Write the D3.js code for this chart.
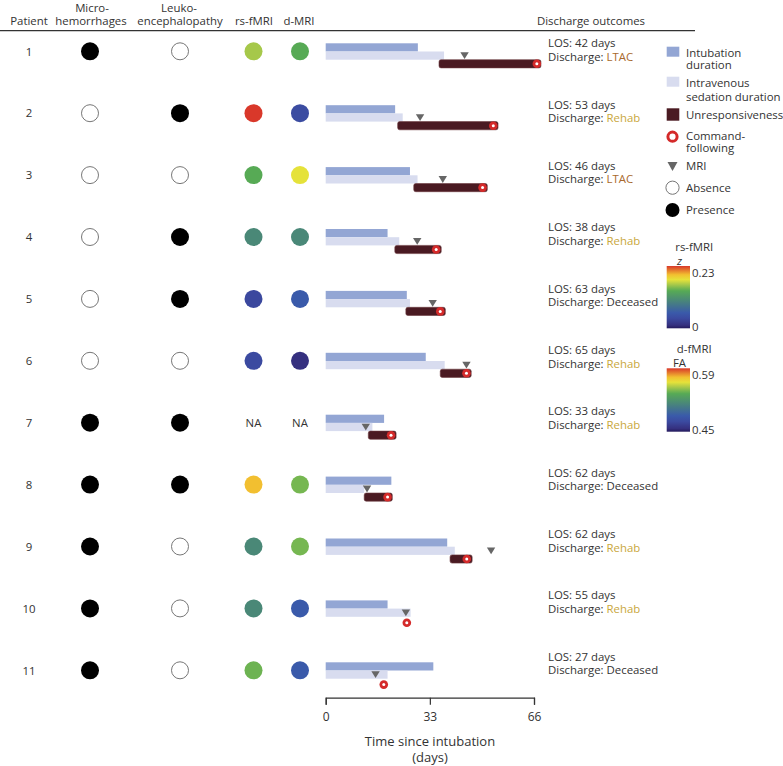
<!DOCTYPE html>
<html>
<head>
<meta charset="utf-8">
<script src="https://cdn.jsdelivr.net/npm/d3@7"></script>
<style>
  html, body { margin: 0; padding: 0; background: #fff; }
  svg { display: block; font-family: "Open Sans", "Noto Sans", sans-serif; }
</style>
</head>
<body>
<svg id="chart" width="783" height="766"></svg>
<script>
// ---------------- DATA ----------------
const patients = [1, 2, 3, 4, 5, 6, 7, 8, 9, 10, 11];
const microhemorrhages = [1, 0, 0, 0, 0, 0, 1, 1, 1, 1, 1];
const leukoencephalopathy = [0, 1, 0, 1, 1, 0, 1, 1, 0, 0, 0];
const rsfmriZ = [0.161, 0.23, 0.138, 0.104, 0.035, 0.037, null, 0.198, 0.104, 0.104, 0.145];
const dmriFA = [0.534, 0.474, 0.559, 0.513, 0.485, 0.457, null, 0.540, 0.540, 0.485, 0.485];
const intubationDays = [29.2, 22.0, 26.7, 19.6, 25.7, 31.7, 18.5, 20.8, 38.5, 19.6, 34.1];
const sedationDays = [37.5, 24.4, 29.1, 23.3, 26.7, 37.7, 14.8, 12.2, 40.9, 26.9, 19.6];
const unrespStart = [35.9, 22.8, 27.9, 21.9, 25.4, 36.3, 13.5, 12.2, 39.4, null, null];
const unrespEnd = [68.2, 54.6, 51.2, 36.6, 37.9, 46.1, 22.3, 21.1, 46.4, null, null];
const commandFollowing = [66.9, 53.1, 49.7, 35.0, 36.3, 44.6, 20.7, 19.6, 44.7, 25.7, 18.4];
const mriDay = [44.0, 29.9, 37.1, 29.0, 33.9, 44.6, 12.7, 13.1, 52.4, 25.4, 15.8];
const losDays = [42, 53, 46, 38, 63, 65, 33, 62, 62, 55, 27];
const discharge = ["LTAC", "Rehab", "LTAC", "Rehab", "Deceased", "Rehab", "Rehab", "Deceased", "Rehab", "Rehab", "Deceased"];
const xTicks = [0, 33, 66];
const rsDomain = [0, 0.23];
const faDomain = [0.45, 0.59];

// colormap stops (fraction, colour)
const cmapStops = [
  [0.00, "#241a5c"], [0.05, "#35307f"], [0.16, "#3b4aa0"], [0.25, "#3a5aaa"],
  [0.45, "#4a8878"], [0.60, "#57aa55"], [0.64, "#74b651"], [0.70, "#a6c84a"],
  [0.78, "#e6e23a"], [0.86, "#f2c030"], [1.00, "#d9382a"]
];
const dischargeColor = { LTAC: "#a8692c", Rehab: "#c9a73c", Deceased: "#333333" };

// ---------------- LAYOUT ----------------
const svg = d3.select("#chart");
const textCol = "#333";
const fs = 11.4;
const rowTop0 = 43.3, rowStep = 61.9;
const rowY = d3.scaleLinear().domain([0, 1]).range([rowTop0, rowTop0 + rowStep]);
const losY = d3.scaleLinear().domain([0, 10]).range([43.3, 656.7]);
const x = d3.scaleLinear().domain([0, 66]).range([325.7, 534]);
const barH = 8.2;

const cmap = d3.scaleLinear().domain(cmapStops.map(d => d[0])).range(cmapStops.map(d => d[1])).clamp(true);
const rsColor = v => cmap((v - rsDomain[0]) / (rsDomain[1] - rsDomain[0]));
const faColor = v => cmap((v - faDomain[0]) / (faDomain[1] - faDomain[0]));

// ---------------- HEADER ----------------
const hdr = svg.append("g").attr("fill", textCol).attr("font-size", fs).attr("text-anchor", "middle");
hdr.append("text").attr("x", 29).attr("y", 25).text("Patient");
hdr.append("text").attr("x", 92).attr("y", 11.5).text("Micro-");
hdr.append("text").attr("x", 91).attr("y", 25).text("hemorrhages");
hdr.append("text").attr("x", 179).attr("y", 11.5).text("Leuko-");
hdr.append("text").attr("x", 180).attr("y", 25).text("encephalopathy");
hdr.append("text").attr("x", 254).attr("y", 25).text("rs-fMRI");
hdr.append("text").attr("x", 299).attr("y", 25).text("d-MRI");
hdr.append("text").attr("x", 591).attr("y", 25).text("Discharge outcomes");
svg.append("line").attr("x1", 0).attr("x2", 695).attr("y1", 30.7).attr("y2", 30.7)
  .attr("stroke", "#333").attr("stroke-width", 1.3);

// ---------------- ROWS ----------------
const rows = svg.append("g");
patients.forEach((p, i) => {
  const top = rowY(i);
  const cy = top + 8;
  const g = rows.append("g");
  g.append("text").attr("x", 29).attr("y", cy + 4.2).attr("text-anchor", "middle")
    .attr("font-size", fs).attr("fill", textCol).text(p);
  // presence/absence
  [[90, microhemorrhages[i]], [180, leukoencephalopathy[i]]].forEach(([cx, v]) => {
    g.append("circle").attr("cx", cx).attr("cy", cy).attr("r", v ? 9 : 8.5)
      .attr("fill", v ? "#000" : "#fff").attr("stroke", v ? "#000" : "#777").attr("stroke-width", v ? 0 : 1);
  });
  // imaging colours
  [[253.5, rsfmriZ[i], rsColor], [300, dmriFA[i], faColor]].forEach(([cx, v, f]) => {
    if (v == null) {
      g.append("text").attr("x", cx).attr("y", cy + 4.2).attr("text-anchor", "middle")
        .attr("font-size", fs).attr("fill", textCol).text("NA");
    } else {
      g.append("circle").attr("cx", cx).attr("cy", cy).attr("r", 9).attr("fill", f(v));
    }
  });
  // bars
  g.append("rect").attr("x", x(0)).attr("y", top).attr("width", x(intubationDays[i]) - x(0)).attr("height", barH)
    .attr("fill", "#93a6d4");
  g.append("rect").attr("x", x(0)).attr("y", top + barH).attr("width", x(sedationDays[i]) - x(0)).attr("height", barH)
    .attr("fill", "#d8dcef");
  if (unrespStart[i] != null) {
    g.append("rect").attr("x", x(unrespStart[i])).attr("y", top + 2 * barH)
      .attr("width", x(unrespEnd[i]) - x(unrespStart[i])).attr("height", barH)
      .attr("rx", 2).attr("fill", "#4a1a22").attr("stroke", "#6b3a40").attr("stroke-width", 0.6);
  }
  // MRI triangle
  const tx = x(mriDay[i]), ty = top + 12.3;
  g.append("path").attr("d", `M${tx - 4.2},${ty - 3.3}L${tx + 4.2},${ty - 3.3}L${tx},${ty + 3.5}Z`).attr("fill", "#666");
  // command following
  const cfy = unrespStart[i] != null ? top + 2 * barH + 4.1 : top + 22.3;
  g.append("circle").attr("cx", x(commandFollowing[i])).attr("cy", cfy).attr("r", 4.3).attr("fill", "#d42a2a");
  g.append("circle").attr("cx", x(commandFollowing[i])).attr("cy", cfy).attr("r", 1.5).attr("fill", "#fff");
  // discharge text
  const t1 = losY(i) + 4.1;
  g.append("text").attr("x", 548).attr("y", t1).attr("font-size", fs).attr("fill", textCol)
    .text(`LOS: ${losDays[i]} days`);
  const t2 = g.append("text").attr("x", 548).attr("y", t1 + 13.4).attr("font-size", fs).attr("fill", textCol);
  t2.append("tspan").text("Discharge: ");
  t2.append("tspan").attr("fill", dischargeColor[discharge[i]]).text(discharge[i]);
});

// ---------------- AXIS ----------------
const axisG = svg.append("g").attr("transform", "translate(0,697.7)")
  .call(d3.axisBottom(x).tickValues(xTicks).tickSize(7).tickSizeOuter(7).tickPadding(8));
axisG.select(".domain").attr("stroke", "#333").attr("stroke-width", 1.2);
axisG.selectAll(".tick line").attr("stroke", "#333").attr("stroke-width", 1.2);
axisG.selectAll(".tick text").attr("font-size", 12).attr("fill", textCol).attr("font-family", '"Open Sans", sans-serif');
svg.append("text").attr("x", 430).attr("y", 746).attr("text-anchor", "middle").attr("font-size", 13)
  .attr("fill", textCol).text("Time since intubation");
svg.append("text").attr("x", 430).attr("y", 762).attr("text-anchor", "middle").attr("font-size", 13)
  .attr("fill", textCol).text("(days)");

// ---------------- LEGEND ----------------
const leg = svg.append("g").attr("font-size", fs).attr("fill", textCol);
const lx = 686;
leg.append("rect").attr("x", 666.7).attr("y", 46.7).attr("width", 12.6).attr("height", 10).attr("fill", "#93a6d4");
leg.append("text").attr("x", lx).attr("y", 56.8).text("Intubation");
leg.append("text").attr("x", lx).attr("y", 69.2).text("duration");
leg.append("rect").attr("x", 666.7).attr("y", 76.7).attr("width", 12.6).attr("height", 10).attr("fill", "#d8dcef");
leg.append("text").attr("x", lx).attr("y", 87.4).text("Intravenous");
leg.append("text").attr("x", lx).attr("y", 100.8).text("sedation duration");
leg.append("rect").attr("x", 666.7).attr("y", 108.3).attr("width", 12.6).attr("height", 12.4).attr("fill", "#4a1a22");
leg.append("text").attr("x", lx).attr("y", 119.1).text("Unresponsiveness");
leg.append("circle").attr("cx", 672.5).attr("cy", 136.7).attr("r", 4.6).attr("fill", "#fff")
  .attr("stroke", "#d42a2a").attr("stroke-width", 3);
leg.append("text").attr("x", lx).attr("y", 140.1).text("Command-");
leg.append("text").attr("x", lx).attr("y", 151.8).text("following");
leg.append("path").attr("d", "M667.5,162L677.5,162L672.5,171Z").attr("fill", "#666");
leg.append("text").attr("x", lx).attr("y", 170.1).text("MRI");
leg.append("circle").attr("cx", 672.5).attr("cy", 187.7).attr("r", 6.6).attr("fill", "#fff")
  .attr("stroke", "#777").attr("stroke-width", 1);
leg.append("text").attr("x", lx).attr("y", 191.8).text("Absence");
leg.append("circle").attr("cx", 672.5).attr("cy", 210).attr("r", 7).attr("fill", "#000");
leg.append("text").attr("x", lx).attr("y", 214.1).text("Presence");

// ---------------- COLOUR BARS ----------------
const defs = svg.append("defs");
const grad = defs.append("linearGradient").attr("id", "cmap").attr("x1", 0).attr("x2", 0).attr("y1", 1).attr("y2", 0);
cmapStops.forEach(s => grad.append("stop").attr("offset", s[0]).attr("stop-color", s[1]));

function colorbar(title, sub, italic, y0, y1, domain) {
  const g = svg.append("g").attr("font-size", fs).attr("fill", textCol);
  g.append("text").attr("x", 694.3).attr("y", y0 - 15).attr("text-anchor", "middle").text(title);
  g.append("text").attr("x", 679.5).attr("y", y0 - 1.5).attr("text-anchor", "middle")
    .attr("font-style", italic ? "italic" : "normal").text(sub);
  g.append("rect").attr("x", 666.7).attr("y", y0).attr("width", 23.3).attr("height", y1 - y0).attr("fill", "url(#cmap)");
  const s = d3.scaleLinear().domain(domain).range([y1 - 1.6, y0 + 6.3]);
  g.selectAll("text.tk").data(domain).join("text").attr("class", "tk").attr("x", 692)
    .attr("y", d => s(d) + 4.2).text(d => d3.format("")(d));
}
colorbar("rs-fMRI", "z", true, 266, 328.3, rsDomain);
colorbar("d-fMRI", "FA", false, 368.3, 431.7, faDomain);
</script>
</body>
</html>
